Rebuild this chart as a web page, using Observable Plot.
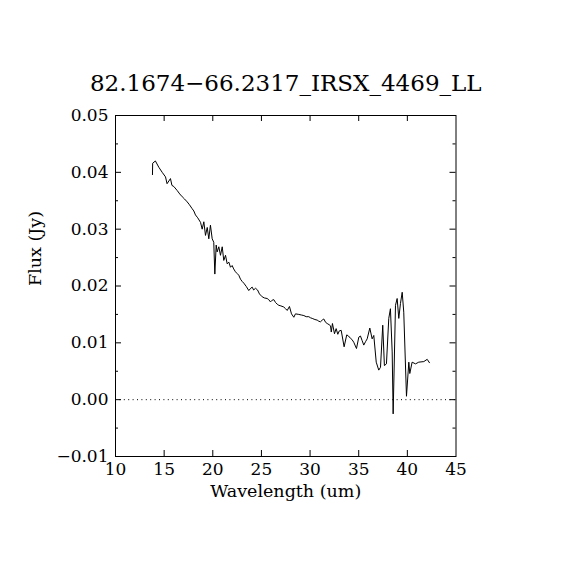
<!DOCTYPE html>
<html><head><meta charset="utf-8">
<script src="https://cdn.jsdelivr.net/npm/d3@7"></script>
<script src="https://cdn.jsdelivr.net/npm/@observablehq/plot@0.6"></script>
<style>body{margin:0;background:#fff}</style>
</head><body><div id="chart"></div>
<script>
const titleText = "82.1674\u221266.2317_IRSX_4469_LL";
const xLabel = "Wavelength (um)";
const yLabel = "Flux (Jy)";

const wavelength = [13.80,13.82,14.10,14.45,14.80,15.14,15.30,15.65,15.80,16.00,16.34,16.60,16.86,17.10,17.37,17.60,17.88,18.05,18.22,18.45,18.74,18.91,19.08,19.25,19.43,19.59,19.76,19.94,20.10,20.21,20.35,20.45,20.62,20.79,20.97,21.13,21.31,21.48,21.65,21.82,21.99,22.15,22.33,22.50,22.67,22.85,23.02,23.19,23.45,23.70,23.90,24.05,24.20,24.39,24.60,24.80,25.08,25.30,25.59,25.75,25.93,26.10,26.27,26.45,26.62,26.79,27.00,27.30,27.48,27.65,27.88,28.09,28.33,28.50,28.84,29.10,29.36,29.60,29.87,30.05,30.22,30.50,30.73,30.90,31.07,31.25,31.41,31.60,31.76,31.95,32.10,32.18,32.30,32.51,32.68,32.85,33.00,33.20,33.50,33.77,33.95,34.15,34.30,34.49,34.77,35.01,35.18,35.35,35.52,35.70,35.87,36.14,36.38,36.55,36.80,37.06,37.24,37.47,37.64,37.85,38.09,38.26,38.44,38.54,38.78,38.95,39.12,39.29,39.47,39.63,39.91,40.15,40.25,40.49,40.84,41.17,41.69,42.04,42.27];
const flux = [0.0396,0.0416,0.0420,0.0409,0.0400,0.0392,0.0380,0.0389,0.0377,0.0375,0.0368,0.0362,0.0357,0.0353,0.0348,0.0343,0.0336,0.0332,0.0325,0.0320,0.0312,0.0300,0.0313,0.0289,0.0303,0.0283,0.0307,0.0283,0.0277,0.0221,0.0272,0.0260,0.0269,0.0254,0.0269,0.0245,0.0254,0.0239,0.0242,0.0233,0.0236,0.0230,0.0225,0.0222,0.0219,0.0212,0.0208,0.0205,0.0199,0.0192,0.0196,0.0198,0.0193,0.0196,0.0193,0.0186,0.0181,0.0179,0.0178,0.0176,0.0172,0.0175,0.0176,0.0171,0.0168,0.0166,0.0165,0.0163,0.0160,0.0157,0.0164,0.0151,0.0145,0.0151,0.0150,0.0149,0.0148,0.0146,0.0146,0.0144,0.0143,0.0141,0.0140,0.0138,0.0137,0.0140,0.0142,0.0136,0.0134,0.0132,0.0130,0.0119,0.0134,0.0116,0.0125,0.0115,0.0121,0.0122,0.0093,0.0114,0.0112,0.0108,0.0106,0.0101,0.0090,0.0110,0.0112,0.0104,0.0096,0.0102,0.0107,0.0126,0.0107,0.0113,0.0066,0.0052,0.0057,0.0131,0.0060,0.0063,0.0143,0.0160,0.0084,-0.0025,0.0166,0.0178,0.0143,0.0169,0.0189,0.0154,0.0006,0.0066,0.0046,0.0066,0.0063,0.0066,0.0067,0.0071,0.0065];

const xTicks = [10,15,20,25,30,35,40,45];
const yTicks = [-0.01,0.00,0.01,0.02,0.03,0.04,0.05];
const yMinor = [-0.005,0.005,0.015,0.025,0.035,0.045];

const W = 570, H = 570, mL = 115, mR = 114.5, mT = 115, mB = 114;
const fw = W - mL - mR, fh = H - mT - mB;
const data = wavelength.map((x, i) => ({x, y: flux[i]}));
const xInner = xTicks.slice(1, -1);
const yInner = yTicks.slice(1, -1);

const chart = Plot.plot({
  width: W, height: H,
  marginLeft: mL, marginRight: mR, marginTop: mT, marginBottom: mB,
  style: {fontFamily: "DejaVu Serif", fontSize: "17px", background: "white", color: "black"},
  x: {domain: [10, 45]},
  y: {domain: [-0.01, 0.05]},
  marks: [
    Plot.ruleY([0], {stroke: "black", strokeWidth: 1, strokeDasharray: "1,3.4"}),
    Plot.line(data, {x: "x", y: "y", stroke: "black", strokeWidth: 1}),
    Plot.frame({stroke: "black", strokeWidth: 1}),
    Plot.tickX(xInner, {x: d => d, insetTop: fh - 6, stroke: "black"}),
    Plot.tickX(xInner, {x: d => d, insetBottom: fh - 6, stroke: "black"}),
    Plot.tickY(yInner, {y: d => d, insetRight: fw - 6, stroke: "black"}),
    Plot.tickY(yInner, {y: d => d, insetLeft: fw - 6, stroke: "black"}),
    Plot.tickY(yMinor, {y: d => d, insetRight: fw - 3, stroke: "black"}),
    Plot.tickY(yMinor, {y: d => d, insetLeft: fw - 3, stroke: "black"}),
    Plot.axisX(xTicks, {anchor: "bottom", tickSize: 0, tickPadding: 6, fontSize: 17, label: null, tickFormat: d3.format("d")}),
    Plot.axisY(yTicks, {anchor: "left", tickSize: 0, tickPadding: 7, fontSize: 17, label: null, tickFormat: d3.format(".2f")}),
    Plot.text([titleText], {frameAnchor: "top", dy: -25, lineAnchor: "bottom", fontSize: 23}),
    Plot.text([xLabel], {frameAnchor: "bottom", dy: 40, lineAnchor: "bottom", fontSize: 17.5}),
    Plot.text([yLabel], {frameAnchor: "left", dx: -80, rotate: -90, lineAnchor: "middle", fontSize: 17.5})
  ]
});
document.getElementById("chart").appendChild(chart);
</script>
</body></html>
